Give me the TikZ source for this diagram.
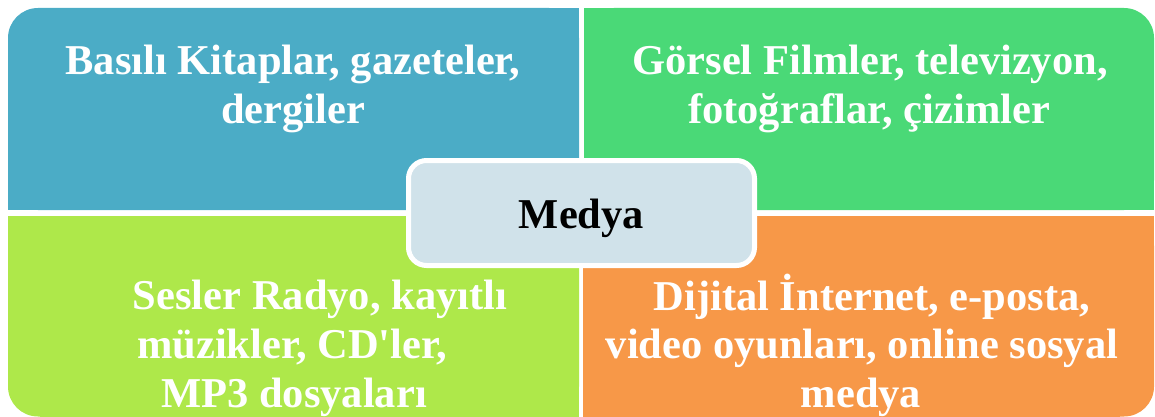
\documentclass[tikz,border=0pt]{standalone}
\usepackage{fontspec}
\setmainfont{Liberation Serif}
\newfontfamily\aposfont{Liberation Serif}[Ligatures=ResetAll]
\newcommand{\straightapos}{{\aposfont\bfseries\char39}}
\definecolor{qblue}{HTML}{4BACC6}
\definecolor{qgreen}{HTML}{4AD977}
\definecolor{qlime}{HTML}{AEE84A}
\definecolor{qorange}{HTML}{F79848}
\definecolor{cfill}{HTML}{D0E2EA}
\tikzset{
  qtext/.style={anchor=base, text=white, inner sep=0pt, font=\fontsize{42.5}{48}\selectfont\bfseries},
  centerbox/.style={draw=white, line width=5pt, fill=cfill, rounded corners=18pt,
    minimum width=346pt, minimum height=105pt, inner sep=0pt,
    text height=40pt, text depth=10pt, font=\fontsize{42.5}{48}\selectfont\bfseries}
}
\begin{document}
\begin{tikzpicture}[x=1pt,y=-1pt]
\useasboundingbox (0,0) rectangle (1155,417);
% top-left
\fill[qblue, rounded corners=30pt] (8,8) rectangle (579,210);
\fill[qblue] (40,8) rectangle (579,210);
\fill[qblue] (8,40) rectangle (579,210);
% top-right
\fill[qgreen, rounded corners=30pt] (584,8) rectangle (1154,210);
\fill[qgreen] (584,8) rectangle (1120,210);
\fill[qgreen] (584,40) rectangle (1154,210);
% bottom-left
\fill[qlime, rounded corners=30pt] (8,216) rectangle (579,416.5);
\fill[qlime] (8,216) rectangle (579,384);
\fill[qlime] (40,216) rectangle (579,416.5);
% bottom-right
\fill[qorange, rounded corners=30pt] (583,216) rectangle (1154,416.5);
\fill[qorange] (583,216) rectangle (1154,384);
\fill[qorange] (583,216) rectangle (1120,416.5);
% texts
\node[qtext] (tl1) at (293,75) {Basılı Kitaplar, gazeteler,};
\node[qtext] (tl2) at (293,123) {dergiler};
\node[qtext] (tr1) at (870,75) {Görsel Filmler, televizyon,};
\node[qtext] (tr2) at (869,123) {fotoğraflar, çizimler};
\node[qtext] (bl1) at (320,309) {Sesler Radyo, kayıtlı};
\node[qtext] (bl2) at (292,358) {müzikler, CD\straightapos ler,};
\node[qtext] (bl3) at (294,407) {MP3 dosyaları};
\node[qtext] (br1) at (872,310) {Dijital İnternet, e-posta,};
\node[qtext] (br2) at (862,358) {video oyunları, online sosyal};
\node[qtext] (br3) at (861,407) {medya};
% center
\node[centerbox] (medya) at (581.5,213) {Medya};
\end{tikzpicture}
\end{document}
